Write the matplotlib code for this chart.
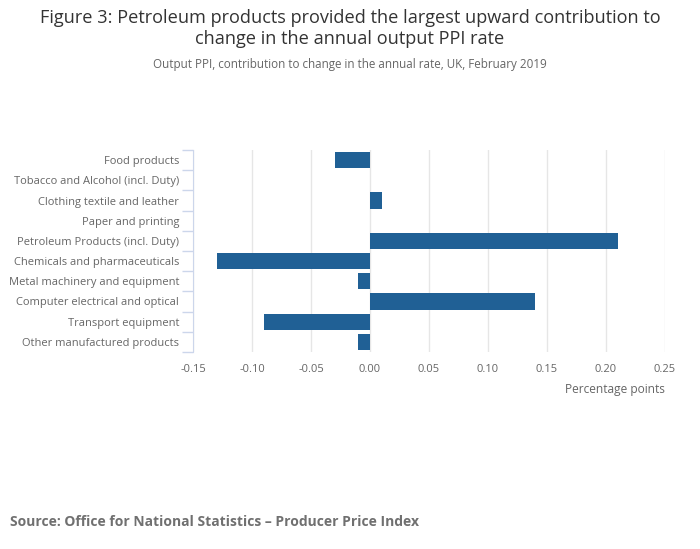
import matplotlib
matplotlib.use('Agg')
import matplotlib.pyplot as plt
import numpy as np

plt.rcParams['font.family'] = ['Open Sans', 'DejaVu Sans']

categories = [
    'Food products',
    'Tobacco and Alcohol (incl. Duty)',
    'Clothing textile and leather',
    'Paper and printing',
    'Petroleum Products (incl. Duty)',
    'Chemicals and pharmaceuticals',
    'Metal machinery and equipment',
    'Computer electrical and optical',
    'Transport equipment',
    'Other manufactured products',
]
contribution = [-0.03, 0.0, 0.01, 0.0, 0.21, -0.13, -0.01, 0.14, -0.09, -0.01]
x_ticks = [-0.15, -0.10, -0.05, 0.00, 0.05, 0.10, 0.15, 0.20, 0.25]

fig = plt.figure(figsize=(7, 5.49), dpi=100)
ax = fig.add_axes([193 / 700, 1 - 352 / 549, (665 - 193) / 700, (352 - 150) / 549])

y = np.arange(len(categories))
ax.barh(y, contribution, height=0.8, color='#206095', zorder=3)
ax.set_ylim(len(categories) - 0.5, -0.5)
ax.set_xlim(-0.15, 0.25)

ax.set_xticks(x_ticks)
ax.set_xticklabels(['%.2f' % v for v in x_ticks], fontsize=8, color='#666666')
ax.tick_params(axis='x', length=0, pad=9)
ax.grid(axis='x', color='#e6e6e6', linewidth=1, zorder=0)

# category labels in the middle, ticks on the boundaries
ax.set_yticks(y)
ax.set_yticklabels(categories, fontsize=8, color='#666666')
ax.tick_params(axis='y', which='major', length=0, pad=10)
ax.set_yticks(np.arange(-0.5, len(categories)), minor=True)
ax.tick_params(axis='y', which='minor', length=8, color='#ccd6eb', width=1)

for side in ['top', 'right', 'bottom']:
    ax.spines[side].set_visible(False)
ax.spines['left'].set_color('#ccd6eb')

fig.text(665 / 700, 1 - 389 / 549, 'Percentage points', ha='right', va='center',
         fontsize=8.6, color='#666666')

fig.text(0.5, 1 - 18 / 549, 'Figure 3: Petroleum products provided the largest upward contribution to',
         ha='center', va='center', fontsize=13.1, color='#333333')
fig.text(0.5, 1 - 39 / 549, 'change in the annual output PPI rate',
         ha='center', va='center', fontsize=13.1, color='#333333')
fig.text(0.5, 1 - 64 / 549, 'Output PPI, contribution to change in the annual rate, UK, February 2019',
         ha='center', va='center', fontsize=8.4, color='#666666')

fig.text(10 / 700, 1 - 522 / 549, 'Source: Office for National Statistics \u2013 Producer Price Index',
         ha='left', va='center', fontsize=10, fontweight='bold', color='#707070')

fig.savefig('out.png', dpi=100)
